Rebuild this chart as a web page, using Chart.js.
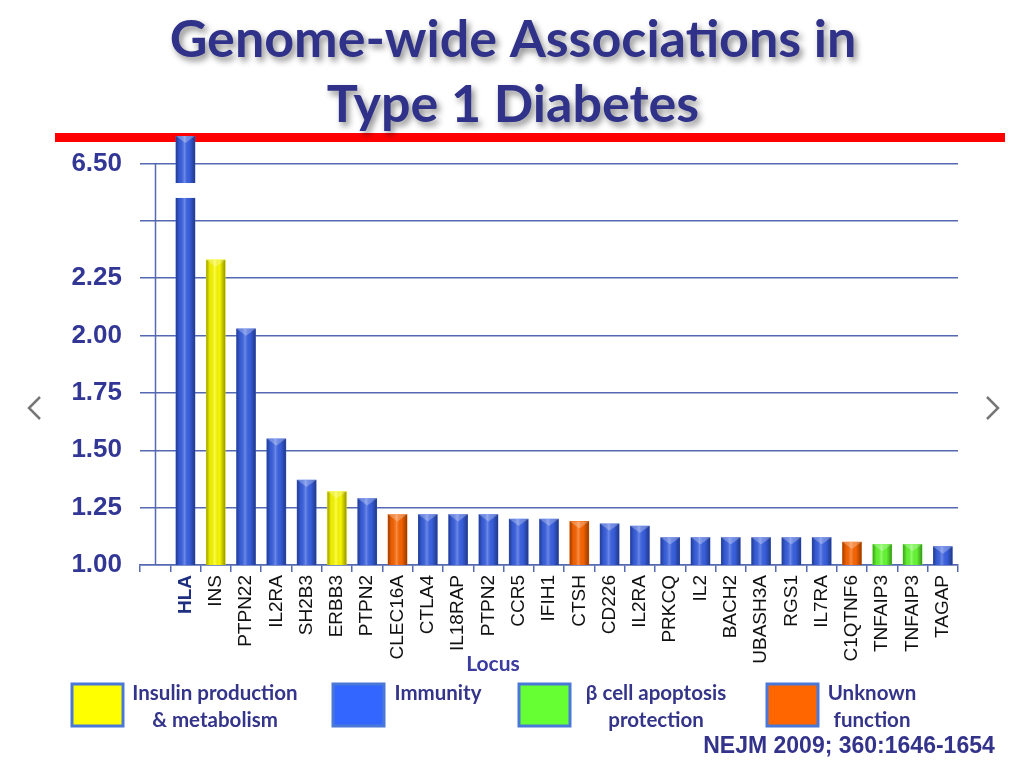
<!DOCTYPE html>
<html>
<head>
<meta charset="utf-8">
<script src="https://cdn.jsdelivr.net/npm/chart.js@4/dist/chart.umd.min.js"></script>
<style>
  html, body { margin: 0; padding: 0; background: #fff; }
  #wrap { width: 1024px; height: 773px; position: relative; }
</style>
</head>
<body>
<div id="wrap"><canvas id="grafico"></canvas></div>
<script>
// loci in the order shown, and odds ratios
const loci = ['HLA', 'INS', 'PTPN22', 'IL2RA', 'SH2B3', 'ERBB3', 'PTPN2', 'CLEC16A', 'CTLA4', 'IL18RAP',
  'PTPN2', 'CCR5', 'IFIH1', 'CTSH', 'CD226', 'IL2RA', 'PRKCQ', 'IL2', 'BACH2', 'UBASH3A',
  'RGS1', 'IL7RA', 'C1QTNF6', 'TNFAIP3', 'TNFAIP3', 'TAGAP'];
const oddsRatios = [6.62, 2.33, 2.03, 1.55, 1.37, 1.32, 1.29, 1.22, 1.22, 1.22,
  1.22, 1.20, 1.20, 1.19, 1.18, 1.17, 1.12, 1.12, 1.12, 1.12,
  1.12, 1.12, 1.10, 1.09, 1.09, 1.08];
const groups = ['imm', 'ins', 'imm', 'imm', 'imm', 'ins', 'imm', 'unk', 'imm', 'imm',
  'imm', 'imm', 'imm', 'unk', 'imm', 'imm', 'imm', 'imm', 'imm', 'imm',
  'imm', 'imm', 'unk', 'beta', 'beta', 'imm'];

const groupKeys = ['ins', 'imm', 'beta', 'unk'];
const groupColors = { ins: '#ffff00', imm: '#3a62e6', beta: '#66ff33', unk: '#ff6600' };
const legendColors = { ins: '#ffff00', imm: '#3366ff', beta: '#66ff33', unk: '#ff6600' };
const legendLines = [['Insulin production', '& metabolism'], ['Immunity'], ['β cell apoptosis', 'protection'], ['Unknown', 'function']];

// y axis has a break: 2.50 line, then 6.50
const yTickValues = [1.00, 1.25, 1.50, 1.75, 2.00, 2.25, 2.50, 2.75];
const yTickLabels = ['1.00', '1.25', '1.50', '1.75', '2.00', '2.25', '', '6.50'];
const breakFrom = 2.5, breakTo = 6.5, breakAxis = 2.75;

const titleLines = ['Genome-wide Associations in', 'Type 1 Diabetes'];
const fonteTexto = 'Lato, "Open Sans", sans-serif';
const fonteArial = '"Liberation Sans", Arial, sans-serif';
const navy = '#2f3288';
const gridColor = '#5568b2';

const toAxis = v => v <= breakFrom ? v : breakAxis + (v - breakTo);

const labels = [''].concat(loci);
const valores = [null].concat(oddsRatios.map(toAxis));
const cores = ['rgba(0,0,0,0)'].concat(groups.map(g => groupColors[g]));

const decoracao = {
    id: 'decoracao',
    beforeDatasetsDraw(chart) {
        const ctx = chart.ctx;
        const y = chart.scales.y;
        const x = chart.scales.x;
        ctx.save();
        // red rule under the title
        ctx.fillStyle = '#ff0000';
        ctx.fillRect(55, 133, 950, 9);
        // vertical axis line through the first (empty) category
        ctx.strokeStyle = gridColor;
        ctx.lineWidth = 1.5;
        const ax = Math.round(x.getPixelForValue(0)) + 0.5;
        ctx.beginPath();
        ctx.moveTo(ax, y.getPixelForValue(breakAxis));
        ctx.lineTo(ax, y.getPixelForValue(1));
        ctx.stroke();
        ctx.restore();
    },
    afterDatasetsDraw(chart) {
        const ctx = chart.ctx;
        const meta = chart.getDatasetMeta(0);
        const y = chart.scales.y;
        const baseY = y.getPixelForValue(1);
        ctx.save();
        meta.data.forEach((el, i) => {
            if (valores[i] == null) return;
            const p = el.getProps(['x', 'y', 'width'], true);
            const l = p.x - p.width / 2, r = p.x + p.width / 2;
            const g = ctx.createLinearGradient(l, 0, r, 0);
            g.addColorStop(0, 'rgba(0,0,0,0.38)');
            g.addColorStop(0.2, 'rgba(0,0,0,0.06)');
            g.addColorStop(0.45, 'rgba(255,255,255,0.25)');
            g.addColorStop(0.7, 'rgba(0,0,0,0.03)');
            g.addColorStop(1, 'rgba(0,0,0,0.42)');
            ctx.fillStyle = g;
            ctx.fillRect(l, p.y, p.width, baseY - p.y);
            // bevelled top
            ctx.fillStyle = 'rgba(255,255,255,0.28)';
            ctx.beginPath();
            ctx.moveTo(l, p.y);
            ctx.lineTo(r, p.y);
            ctx.lineTo(p.x, p.y + 7);
            ctx.closePath();
            ctx.fill();
        });
        // break in the HLA bar
        const hla = meta.data[1].getProps(['x', 'width'], true);
        const y1 = y.getPixelForValue(2.665), y2 = y.getPixelForValue(2.60);
        ctx.fillStyle = '#ffffff';
        ctx.fillRect(hla.x - hla.width / 2 - 2, y1, hla.width + 4, y2 - y1);
        ctx.restore();
    },
    afterDraw(chart) {
        const ctx = chart.ctx;
        ctx.save();
        // title with shadow
        ctx.fillStyle = navy;
        ctx.textAlign = 'center';
        ctx.textBaseline = 'middle';
        ctx.shadowColor = 'rgba(0,0,0,0.45)';
        ctx.shadowBlur = 6;
        ctx.shadowOffsetX = 3;
        ctx.shadowOffsetY = 4;
        ctx.font = 'bold 52px ' + fonteTexto;
        ctx.fillText(titleLines[0], 513, 40);
        ctx.fillText(titleLines[1], 513, 105);
        ctx.shadowColor = 'rgba(0,0,0,0)';

        // Locus
        ctx.fillStyle = '#3b3ba0';
        ctx.font = 'bold 21px ' + fonteTexto;
        ctx.fillText('Locus', 493, 664);

        // legend
        const boxX = [72, 333, 519, 767];
        const textX = [215, 438, 656, 872];
        groupKeys.forEach((k, i) => {
            ctx.fillStyle = legendColors[k];
            ctx.fillRect(boxX[i], 684, 51, 42);
            ctx.strokeStyle = '#4a78d8';
            ctx.lineWidth = 3;
            ctx.strokeRect(boxX[i], 684, 51, 42);
            ctx.fillStyle = '#34348a';
            ctx.font = 'bold 20.5px ' + fonteTexto;
            legendLines[i].forEach((t, j) => ctx.fillText(t, textX[i], 693 + j * 27));
        });

        ctx.font = 'bold 23px ' + fonteArial;
        ctx.fillStyle = '#33338c';
        ctx.fillText('NEJM 2009; 360:1646-1654', 849, 747);

        // slide arrows
        ctx.strokeStyle = '#777';
        ctx.lineWidth = 2.5;
        ctx.beginPath();
        ctx.moveTo(40, 397); ctx.lineTo(29, 408); ctx.lineTo(40, 419);
        ctx.moveTo(987, 397); ctx.lineTo(998, 408); ctx.lineTo(987, 419);
        ctx.stroke();
        ctx.restore();
    }
};

document.addEventListener('DOMContentLoaded', () => {
    const ctx = document.getElementById('grafico').getContext('2d');
    new Chart(ctx, {
        type: 'bar',
        data: {
            labels: labels,
            datasets: [{
                label: 'Odds ratio',
                data: valores,
                backgroundColor: cores,
                barThickness: 19,
                borderWidth: 0
            }]
        },
        options: {
            responsive: true,
            maintainAspectRatio: false,
            animation: false,
            layout: { padding: { top: 136, right: 66, left: 0, bottom: 0 } },
            plugins: { legend: { display: false }, tooltip: { enabled: false }, title: { display: false } },
            scales: {
                x: {
                    offset: true,
                    afterFit: s => { s.height = 208; },
                    grid: { display: true, drawOnChartArea: false, drawTicks: true, tickLength: 7, offset: true, color: gridColor, lineWidth: 1.5 },
                    border: { display: true, color: gridColor, width: 1.5 },
                    ticks: {
                        autoSkip: false,
                        maxRotation: 90,
                        minRotation: 90,
                        padding: 3,
                        color: c => c.index === 1 ? '#1f2f80' : '#111',
                        font: c => ({ family: fonteArial, size: 19, weight: c.index === 1 ? 'bold' : 'normal' })
                    }
                },
                y: {
                    min: 1,
                    max: toAxis(oddsRatios[0]),
                    beginAtZero: false,
                    afterFit: s => { s.width = 140; },
                    afterBuildTicks: s => { s.ticks = yTickValues.map(v => ({ value: v })); },
                    grid: { color: gridColor, lineWidth: 1.5, drawTicks: false },
                    border: { display: false },
                    ticks: {
                        padding: 18,
                        color: '#323796',
                        font: { family: fonteArial, size: 26, weight: 'bold' },
                        callback: (v, i) => yTickLabels[i]
                    }
                }
            }
        },
        plugins: [decoracao]
    });
});
</script>
</body>
</html>
